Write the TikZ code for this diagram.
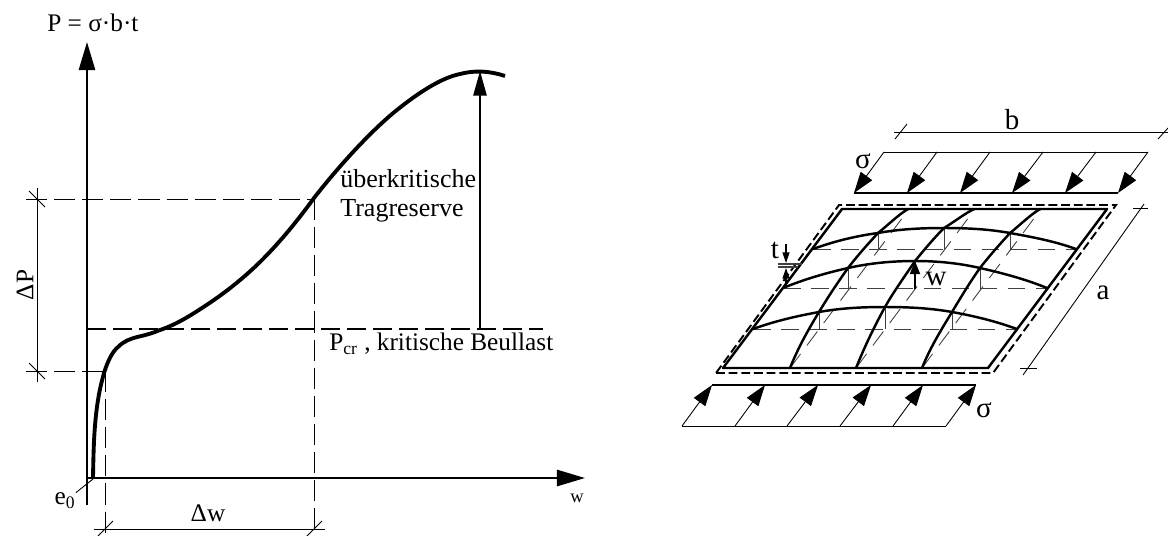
\documentclass[tikz,border=0pt]{standalone}
\usepackage{fontspec}
\setmainfont{Liberation Serif}
\usetikzlibrary{arrows.meta, positioning, calc}

\begin{document}
\begin{tikzpicture}[
    x=0.02cm, y=-0.02cm,
    >=Stealth,
    every node/.style={font=\fontsize{14.4}{16.4}\selectfont, inner sep=0pt},
    gross/.style={font=\fontsize{16.5}{18}\selectfont},
    axis/.style={draw=black, line width=1.3pt, -{Triangle[length=16pt, width=9.2pt]}},
    reserve/.style={draw=black, line width=1.2pt, -{Triangle[length=14pt, width=7.5pt]}},
    hilf/.style={draw=black, line width=0.5pt, dash pattern=on 12pt off 4pt},
    beul/.style={draw=black, line width=1.15pt, dash pattern=on 10.8pt off 4pt},
    mass/.style={draw=black, line width=0.5pt},
    kurve/.style={draw=black, line width=2.2pt, line join=round},
    last/.style={draw=black, line width=0.5pt, -{Triangle[length=12pt, width=8pt]}},
    kante/.style={draw=black, line width=1.1pt},
    platte/.style={draw=black, line width=1.4pt, line join=round},
    beule/.style={draw=black, line width=1.4pt},
    basis/.style={draw=black!75, line width=0.5pt, dash pattern=on 10pt off 6pt},
    stich/.style={draw=black!75, line width=0.5pt}
]
\useasboundingbox (0,0) rectangle (1168,535);

% Diagram
\coordinate (origin) at (87,478);
\coordinate (ytop) at (87,42);
\coordinate (xend) at (585,478);
\draw[line width=1.3pt] (87,505) -- (origin);
\draw[axis] (origin) -- (ytop);
\draw[axis] (origin) -- (xend);

\node[anchor=west] (plabel) at (47,23) {P = σ·b·t};
\node[font=\fontsize{10.5}{12}\selectfont] (wlabel) at (577,498) {w};
\node (e0label) at (65,501) {e\textsubscript{0}};
\coordinate (e0end) at (93,479);
\draw[mass] (e0label.north east) -- (e0end);

% Hilfslinien
\coordinate (hoben) at (314,199);
\coordinate (hunten) at (104,371);
\draw[hilf] (26,199) -- (hoben);
\draw[hilf] (26,371) -- (hunten);
\draw[hilf] (hoben) -- (314,535);
\draw[hilf] (hunten) ++(1,0) -- (105,535);
\draw[beul] (87,328.5) -- (543,328.5);

% Bemassung
\draw[mass] (37,188) -- (37,382);
\draw[mass] (29,191) -- (45,207);
\draw[mass] (29,363) -- (45,379);
\draw[mass] (94,529) -- (325,529);
\draw[mass] (97,537) -- (113,521);
\draw[mass] (306,537) -- (322,521);
\node[rotate=90] (dplabel) at (25,285) {ΔP};
\node (dwlabel) at (208,513) {Δw};

% Kurve
\draw[kurve] (93,478) .. controls (93.5,450) and (94,425) .. (98,400)
    .. controls (100,387) and (103,377) .. (104,373)
    .. controls (108,360) and (113,351) .. (118,347)
    .. controls (124,341) and (130,339) .. (137,337)
    .. controls (146,335) and (153,333) .. (160,330)
    .. controls (175,325) and (190,316) .. (205,306)
    .. controls (225,293) and (245,277) .. (262,260)
    .. controls (281,241) and (298,220) .. (314,198)
    .. controls (335,171) and (365,137) .. (392,114)
    .. controls (415,95) and (440,78) .. (460,74)
    .. controls (475,70) and (490,71) .. (505,76);
\coordinate (peak) at (480,71);
\draw[reserve] (480,328.5) -- (peak);
\node[anchor=west, align=left, font=\fontsize{14.8}{16.4}\selectfont] (tragreserve) at (340,196) {überkritische\\Tragreserve};
\node[anchor=west] (pcr) at (329,344) {P\textsubscript{cr} , kritische Beullast};

% Last oben
\draw[mass] (884,152) -- (1148,152);
\draw[mass, line width=0.7pt] (854,193) -- (1118,193);
\draw[last] (884,152) -- (854,193);
\draw[last] (937,152) -- (907,193);
\draw[last] (990,152) -- (960,193);
\draw[last] (1043,152) -- (1012,193);
\draw[last] (1096,152) -- (1065,193);
\draw[last] (1148,152) -- (1118,193);
\node[gross] (sigmaoben) at (863,161) {σ};

% Last unten
\draw[mass, line width=0.7pt] (712,385) -- (976,385);
\draw[mass] (682,426) -- (946,426);
\draw[last] (682,426) -- (712,385);
\draw[last] (735,426) -- (765,385);
\draw[last] (787,426) -- (818,385);
\draw[last] (840,426) -- (871,385);
\draw[last] (893,426) -- (923,385);
\draw[last] (946,426) -- (976,385);
\node[gross] (sigmaunten) at (984,410) {σ};

% Platte
\draw[basis] (790,368) -- (909,209);
\draw[basis] (856,368) -- (975,209);
\draw[basis] (922,368) -- (1041,209);
\draw[basis] (813,249) -- (1076,249);
\draw[basis] (783,288) -- (1047,288);
\draw[basis] (753,329) -- (1017,329);
\draw[platte] (723,368) -- (988,368) -- (1107,209) -- (842,209) -- cycle;
\draw[kante, dash pattern=on 5pt off 2.2pt] (716,373) -- (993,373) -- (1116,205) -- (839,205) -- cycle;

% Stiche
\draw[stich] (878,233) -- (878,249);
\draw[stich] (944,228) -- (944,249);
\draw[stich] (1010,233) -- (1010,249);
\draw[stich] (848,268) -- (848,288);
\draw[stich] (980,268) -- (980,288);
\draw[stich] (819,312) -- (819,329);
\draw[stich] (885,307) -- (885,329);
\draw[stich] (952,312) -- (952,329);

% Beulen
\draw[beule] (813,249) .. controls (835,241) and (856,236) .. (878,233)
    .. controls (900,229) and (922,228) .. (944,228)
    .. controls (966,228) and (988,229) .. (1010,233)
    .. controls (1032,237) and (1054,241) .. (1076,249);
\draw[beule] (783,288) .. controls (805,279) and (826,273) .. (848,268)
    .. controls (870,263) and (893,261) .. (915,261)
    .. controls (937,261) and (958,263) .. (980,268)
    .. controls (1002,273) and (1025,279) .. (1047,288);
\draw[beule] (753,329) .. controls (775,321) and (797,316) .. (819,312)
    .. controls (841,308) and (863,307) .. (885,307)
    .. controls (907,307) and (930,308) .. (952,312)
    .. controls (974,316) and (995,321) .. (1017,329);
\draw[beule] (790,368) .. controls (798,348) and (808,330) .. (819,312)
    .. controls (828,297) and (838,282) .. (848,268)
    .. controls (858,255) and (867,245) .. (878,233)
    .. controls (888,225) and (898,215) .. (908,209);
\draw[beule] (856,368) .. controls (864,348) and (874,327) .. (885,307)
    .. controls (894,291) and (905,276) .. (915,261)
    .. controls (924,250) and (934,238) .. (944,228)
    .. controls (954,222) and (964,214) .. (974,209);
\draw[beule] (922,368) .. controls (930,348) and (941,330) .. (952,312)
    .. controls (961,297) and (970,282) .. (980,268)
    .. controls (990,255) and (1000,244) .. (1010,233)
    .. controls (1020,225) and (1030,215) .. (1040,209);

% w und t
\coordinate (wfuss) at (915,289);
\coordinate (wtop) at (915,261);
\draw[line width=1.2pt, -{Triangle[length=7.5pt, width=5.7pt]}] (wfuss) -- (wtop);
\node[gross] (wplatte) at (936,279) {w};
\draw[stich, line width=0.7pt] (778,264) -- (802,264);
\draw[stich, line width=0.7pt] (778,267) -- (798,267);
\draw[line width=0.6pt, -{Triangle[length=6pt, width=4pt]}] (786,244) -- (786,263);
\draw[line width=0.6pt, -{Triangle[length=6pt, width=4pt]}] (786,285) -- (786,268);
\node[gross] (tplatte) at (775,250) {t};

% Mass b und a
\draw[mass] (894,132) -- (1168,132);
\draw[mass] (895,139) -- (907,124);
\draw[mass] (1158,139) -- (1168,128);
\node[gross] (blabel) at (1012,120) {b};
\draw[mass] (1133,208) -- (1148,208);
\draw[mass] (1144,204) -- (1023,375);
\draw[mass] (1020,368) -- (1037,368);
\node[gross] (alabel) at (1103,293) {a};
\end{tikzpicture}
\end{document}
